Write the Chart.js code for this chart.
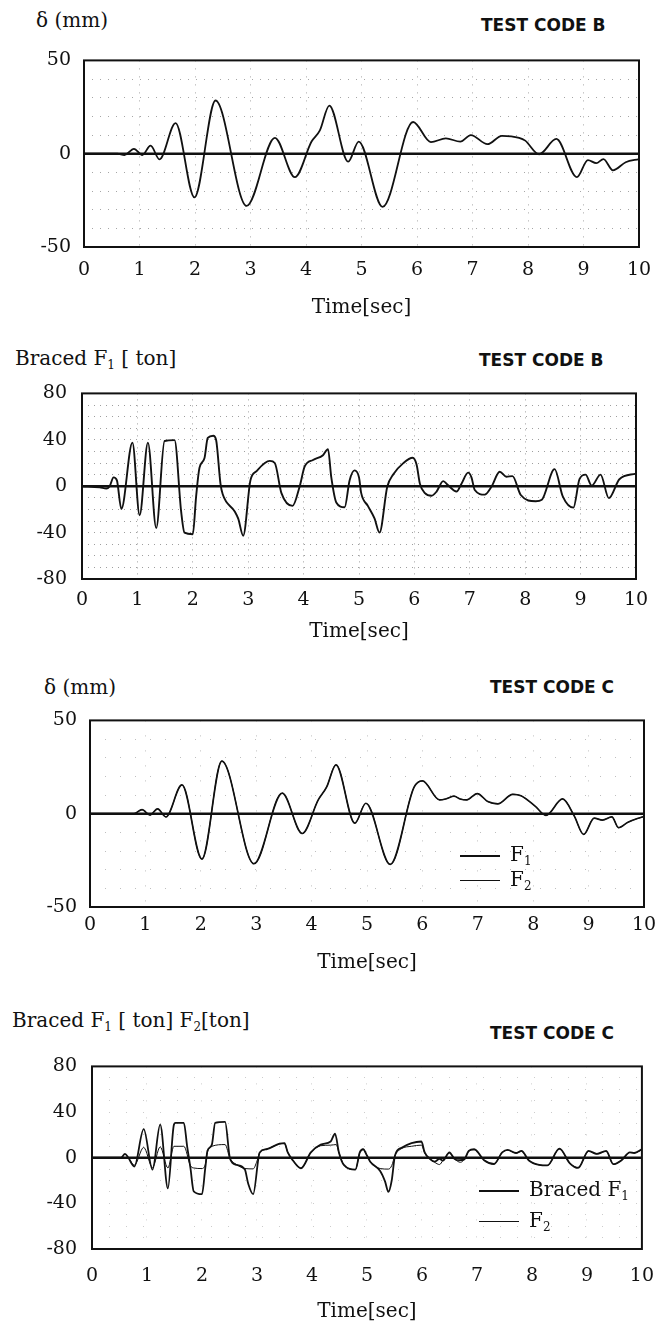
<!DOCTYPE html>
<html>
<head>
<meta charset="utf-8">
<script src="https://cdn.jsdelivr.net/npm/chart.js@4.4.0/dist/chart.umd.min.js"></script>
<style>
body { margin:0; width:656px; height:1330px; overflow:hidden; background:#fff; position:relative; font-family:"DejaVu Serif", serif; color:#111; }
.plot { position:absolute; left:0; }
.head { position:absolute; font-size:20px; line-height:24px; white-space:nowrap; }
.code { position:absolute; font-family:"DejaVu Sans", sans-serif; font-weight:bold; font-size:17px; line-height:24px; white-space:nowrap; }
sub { font-size:12px; vertical-align:-4px; line-height:0; }
.leg { position:absolute; font-size:20px; line-height:24px; white-space:nowrap; }
.leg span { display:inline-block; width:40px; vertical-align:middle; margin-right:10px; border-top:2px solid #111; }
.leg span.thin { border-top-width:1px; }
</style>
</head>
<body>

<div class="head" style="left:36px;top:8px">&delta; (mm)</div>
<div class="code" style="left:481px;top:13px">TEST CODE B</div>
<div class="plot" style="top:36px"><canvas id="c1" width="670" height="284"></canvas></div>

<div class="head" style="left:15px;top:346px">Braced F<sub>1</sub> [ ton]</div>
<div class="code" style="left:479px;top:348px">TEST CODE B</div>
<div class="plot" style="top:367px"><canvas id="c2" width="670" height="277"></canvas></div>

<div class="head" style="left:44px;top:675px">&delta; (mm)</div>
<div class="code" style="left:490px;top:675px">TEST CODE C</div>
<div class="plot" style="top:696px"><canvas id="c3" width="670" height="279"></canvas></div>
<div class="leg" style="left:460px;top:842px"><span></span>F<sub>1</sub></div>
<div class="leg" style="left:460px;top:867px"><span class="thin"></span>F<sub>2</sub></div>

<div class="head" style="left:12px;top:1008px">Braced F<sub>1</sub> [ ton] F<sub>2</sub>[ton]</div>
<div class="code" style="left:490px;top:1021px">TEST CODE C</div>
<div class="plot" style="top:1040px"><canvas id="c4" width="670" height="284"></canvas></div>
<div class="leg" style="left:479px;top:1177px"><span></span>Braced F<sub>1</sub></div>
<div class="leg" style="left:479px;top:1208px"><span class="thin"></span>F<sub>2</sub></div>

<script>
// tick labels
var xTickLabels = [0, 1, 2, 3, 4, 5, 6, 7, 8, 9, 10]
var dispTickLabels = [-50, 0, 50]
var forceTickLabels = [-80, -40, 0, 40, 80]

// test code B, displacement (mm)
var timeDispB = [0, 0.6, 0.73, 0.9, 1.05, 1.2, 1.36, 1.65, 1.99, 2.37, 2.93, 3.44, 3.8, 4.1, 4.25, 4.42, 4.76, 4.95, 5.38, 5.93, 6.25, 6.52, 6.78, 6.97, 7.27, 7.53, 7.84, 7.95, 8.2, 8.51, 8.88, 9.08, 9.23, 9.36, 9.53, 9.76, 10]
var dispB = [0, 0, -0.7, 2.6, -0.7, 4.3, -3, 16.4, -23.4, 28.5, -28, 8.5, -12.6, 6.5, 12.5, 25.8, -4.3, 6.5, -28.5, 17, 6.2, 8.2, 6.5, 10, 5.1, 9.6, 8.5, 7, -0.3, 7.9, -12.6, -3.4, -5.1, -2.9, -8.9, -4.6, -2.9]

// test code B, braced F1 (ton)
var timeForceB = [0, 0.32, 0.44, 0.5, 0.57, 0.63, 0.71, 0.91, 1.04, 1.19, 1.34, 1.49, 1.67, 1.79, 1.85, 2.0, 2.06, 2.12, 2.21, 2.27, 2.37, 2.42, 2.5, 2.54, 2.76, 2.82, 2.91, 3.04, 3.15, 3.39, 3.48, 3.6, 3.8, 3.93, 4.02, 4.17, 4.35, 4.44, 4.5, 4.59, 4.74, 4.83, 4.92, 5.0, 5.04, 5.16, 5.28, 5.37, 5.51, 5.62, 5.8, 5.97, 6.04, 6.1, 6.19, 6.31, 6.4, 6.52, 6.61, 6.76, 6.85, 6.97, 7.03, 7.09, 7.27, 7.39, 7.54, 7.66, 7.77, 7.92, 8.19, 8.3, 8.53, 8.68, 8.87, 8.98, 9.09, 9.2, 9.36, 9.51, 9.7, 10]
var forceB = [0, -1, -2, 0, 7.6, 5, -19.6, 37.6, -25, 37.6, -36, 39, 39.7, -22, -40, -41.4, -8.7, 15.8, 24, 41.6, 43.5, 40, 2, -7, -22, -28, -42.7, 5, 13, 21.8, 20, -6, -17, 0, 17, 22.6, 26.7, 32, 7.6, -14, -18.2, 5, 13.6, 7.6, -6, -17, -27.8, -40, -0.5, 10.3, 19.9, 24.5, 18.5, 2, -6, -8.2, -4.6, 4.4, 0.8, -4.6, 2.2, 11.7, 7.6, -3.3, -7.3, -0.5, 12.5, 8.2, 8.7, -7.6, -13, -11.7, 14.7, -9, -18.5, 6, 10, 0.5, 10, -10.3, 6, 10.9]

// test code C, displacement (mm)
var timeDispC = [0, 0.79, 0.94, 1.08, 1.22, 1.37, 1.66, 2.02, 2.38, 2.96, 3.47, 3.83, 4.12, 4.27, 4.44, 4.78, 4.98, 5.42, 5.85, 6.0, 6.31, 6.42, 6.57, 6.68, 6.8, 6.99, 7.18, 7.36, 7.63, 7.78, 8.04, 8.23, 8.53, 8.74, 8.91, 9.1, 9.25, 9.42, 9.54, 9.71, 9.9, 10]
var dispC = [0, 0, 2.2, -0.7, 2.6, -1.7, 15.4, -24.3, 28.2, -26.8, 11, -10.6, 7.4, 14.2, 26.2, -5.1, 5.6, -27.2, 14.2, 17.6, 7.4, 7.9, 9.4, 7.9, 7.4, 10.8, 6.5, 5.3, 10.4, 9.6, 3.9, -0.9, 7.9, -1.2, -11.1, -2.4, -3.4, -1.7, -7.5, -4.6, -2.4, -1.5]

// test code C, braced F1 and F2 (ton)
var timeForceC1 = [0, 0.53, 0.6, 0.66, 0.77, 0.94, 1.1, 1.24, 1.38, 1.49, 1.52, 1.67, 1.73, 1.79, 1.85, 2.0, 2.06, 2.1, 2.18, 2.24, 2.42, 2.51, 2.63, 2.78, 2.84, 2.93, 3.05, 3.17, 3.41, 3.5, 3.56, 3.65, 3.8, 3.98, 4.16, 4.34, 4.42, 4.49, 4.58, 4.79, 4.87, 4.93, 5.0, 5.06, 5.24, 5.33, 5.39, 5.45, 5.51, 5.63, 5.81, 5.99, 6.05, 6.14, 6.23, 6.32, 6.38, 6.5, 6.59, 6.68, 6.77, 6.85, 6.95, 7.13, 7.31, 7.46, 7.56, 7.71, 7.81, 7.94, 8.13, 8.28, 8.5, 8.69, 8.84, 9.03, 9.18, 9.35, 9.48, 9.63, 9.78, 9.86, 10]
var forceC1 = [0, 0, 3.3, 0, -7.7, 25, -10.4, 29, -26.8, 29, 30.5, 30.6, 10, -9, -29.5, -32, -9, 6, 11.5, 30.6, 31.4, -0.8, -6.3, -10.4, -22.7, -32, 4.6, 7.4, 12.3, 12.8, 4.6, -2.2, -9.3, 4.6, 11.5, 14.2, 21, 4.6, -6.3, -10.4, 4.6, 7.4, 1.9, -3.5, -11.7, -21, -30, -20, 2, 8.7, 12.8, 14.2, 4.6, -0.8, -3.5, -1, -2.5, 4.6, -1, -2.2, -1.5, 6, 7.4, -2.2, -5.5, 4.6, 6.8, 4.1, 6, -2.2, -6.3, -6.8, 7.9, -4.9, -9, 6, 3.3, 6, -5.7, -2.2, 4.6, 4.1, 7.4]
var timeForceC2 = [0, 0.53, 0.6, 0.66, 0.77, 0.94, 1.1, 1.24, 1.38, 1.49, 1.67, 1.79, 1.85, 2.0, 2.06, 2.1, 2.18, 2.42, 2.51, 2.63, 2.78, 2.93, 3.0, 3.05, 3.17, 3.41, 3.5, 3.56, 3.65, 3.8, 3.98, 4.16, 4.34, 4.44, 4.49, 4.58, 4.79, 4.87, 4.93, 5.0, 5.06, 5.24, 5.39, 5.45, 5.51, 5.63, 5.81, 5.99, 6.05, 6.14, 6.23, 6.32, 6.38, 6.5, 6.59, 6.7, 6.77, 6.85, 6.95, 7.13, 7.31, 7.46, 7.56, 7.71, 7.81, 7.94, 8.13, 8.28, 8.5, 8.69, 8.84, 9.03, 9.18, 9.35, 9.48, 9.63, 9.78, 9.86, 10]
var forceC2 = [0, 0, 3, 0, -6.5, 9, -8.5, 9.5, -9, 10, 10, -7, -9, -9.5, -6, 5, 10, 11.5, -0.8, -6, -9.5, -9.8, -3, 4.6, 7.4, 12, 12.5, 4.6, -2.2, -9, 4.6, 10.5, 11, 11.5, 4.6, -6.3, -10.4, 4.6, 7.4, 1.9, -3.5, -9.5, -10, -7, 2, 8, 10, 11, 4, -1, -4, -6, -2.5, 4, -1, -4, -1.5, 5.5, 7, -2.2, -5.5, 4.6, 6.5, 4.1, 5.5, -2.2, -6.3, -6.8, 7.5, -4.9, -8.5, 5.5, 3.3, 5.5, -5.7, -2.2, 4.6, 4.1, 7]

var SERIF = '"DejaVu Serif", serif'

function pts(ts, vs) {
    return ts.map(function(t, i) { return {x: t, y: vs[i]} })
}

var framePlugin = {
    id: 'frame',
    beforeDatasetsDraw: function(chart) {
        var a = chart.chartArea, ctx = chart.ctx
        var y0 = chart.scales.y.getPixelForValue(0)
        ctx.save()
        ctx.strokeStyle = '#111'
        ctx.lineWidth = 2.4
        ctx.beginPath()
        ctx.moveTo(a.left, y0)
        ctx.lineTo(a.right, y0)
        ctx.stroke()
        ctx.restore()
    },
    afterDatasetsDraw: function(chart) {
        var a = chart.chartArea, ctx = chart.ctx
        ctx.save()
        ctx.strokeStyle = '#111'
        ctx.lineWidth = 2
        ctx.strokeRect(a.left, a.top, a.right - a.left, a.bottom - a.top)
        ctx.restore()
    }
}

function makeChart(id, sets, yMax, yLabels, lay) {
    return new Chart(document.getElementById(id), {
        type: 'line',
        data: {
            datasets: sets.map(function(s) {
                return {
                    label: s.label,
                    data: pts(s.t, s.v),
                    borderColor: '#111',
                    borderWidth: s.w,
                    pointRadius: 0,
                    fill: false,
                    cubicInterpolationMode: 'monotone'
                }
            })
        },
        options: {
            responsive: false,
            animation: false,
            layout: { padding: { top: 16, right: lay.right, left: 0, bottom: 0 } },
            plugins: { legend: { display: false }, tooltip: { enabled: false } },
            scales: {
                x: {
                    type: 'linear', min: 0, max: 10,
                    ticks: {
                        stepSize: 1, autoSkip: false, maxRotation: 0, padding: lay.xPad, color: '#111',
                        font: { family: SERIF, size: 19 },
                        callback: function(v) { return xTickLabels.indexOf(v) >= 0 ? v : '' }
                    },
                    grid: { color: lay.grid, drawTicks: false },
                    border: { display: false, dash: lay.dash },
                    title: { display: true, text: 'Time[sec]', color: '#111', font: { family: SERIF, size: 20 }, padding: 0 },
                    afterFit: function(s) { s.height = lay.xH }
                },
                y: {
                    min: -yMax, max: yMax,
                    ticks: {
                        stepSize: 10, autoSkip: false, padding: lay.yPad, color: '#111',
                        font: { family: SERIF, size: 19 },
                        callback: function(v) { return yLabels.indexOf(v) >= 0 ? v : '' }
                    },
                    grid: { color: lay.grid, drawTicks: false },
                    border: { display: false, dash: lay.dash },
                    afterFit: function(s) { s.width = lay.left }
                }
            }
        },
        plugins: [framePlugin]
    })
}

makeChart('c1', [{label: 'δ', t: timeDispB, v: dispB, w: 1.8}], 50, dispTickLabels,
    {left: 84, right: 31, xPad: 12, xH: 73, yPad: 13, grid: 'rgba(0,0,0,0.35)', dash: [1, 7]})

makeChart('c2', [{label: 'Braced F₁', t: timeForceB, v: forceB, w: 1.9}], 80, forceTickLabels,
    {left: 82, right: 34, xPad: 10, xH: 65, yPad: 15, grid: 'rgba(0,0,0,0.38)', dash: [1, 5]})

makeChart('c3', [
    {label: 'F₂', t: timeDispC, v: dispC, w: 1},
    {label: 'F₁', t: timeDispC, v: dispC, w: 1.7}
], 50, dispTickLabels,
    {left: 90, right: 26, xPad: 7, xH: 68, yPad: 13, grid: 'rgba(0,0,0,0.25)', dash: [1, 14]})

makeChart('c4', [
    {label: 'F₂', t: timeForceC2, v: forceC2, w: 1},
    {label: 'Braced F₁', t: timeForceC1, v: forceC1, w: 1.8}
], 80, forceTickLabels,
    {left: 92, right: 22, xPad: 16, xH: 75, yPad: 15, grid: 'rgba(0,0,0,0.2)', dash: [1, 16]})
</script>
</body>
</html>
